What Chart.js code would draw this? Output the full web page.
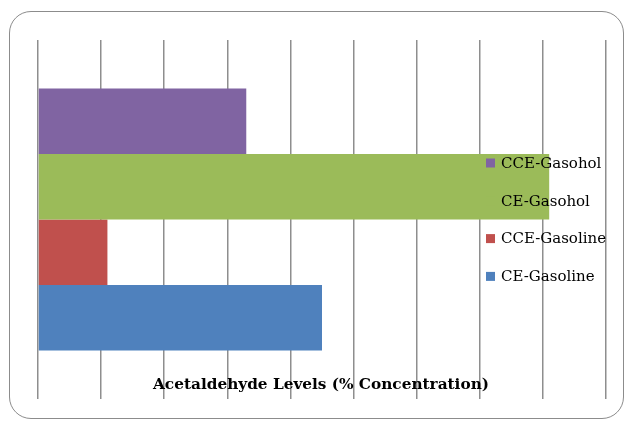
<!DOCTYPE html>
<html lang="en">
<head>
  <meta charset="UTF-8" />
  <title>Acetaldehyde Levels</title>
  <style>
    html, body {
      margin: 0;
      padding: 0;
      background: #fff;
    }

    .wrap {
      position: relative;
      width: 630px;
      height: 423px;
    }

    .frame {
      position: absolute;
      left: 9px;
      top: 11px;
      width: 615px;
      height: 408px;
      border: 1.5px solid #8c8c8c;
      border-radius: 22px;
      box-sizing: border-box;
    }

    canvas {
      position: absolute;
      left: 0;
      top: 0;
    }
  </style>
</head>
<body>
  <div class="wrap">
    <div class="frame"></div>
    <canvas id="myChart" width="630" height="423"></canvas>
  </div>
  <script src="https://cdn.jsdelivr.net/npm/chart.js@4/dist/chart.umd.min.js"></script>
  <script>
    // one category, four series (top to bottom as drawn)
    const categories = ["Acetaldehyde"];
    const seriesNames = ["CCE-Gasohol", "CE-Gasohol", "CCE-Gasoline", "CE-Gasoline"];
    const cceGasohol = [3.3];
    const ceGasohol = [8.1];
    const cceGasoline = [1.1];
    const ceGasoline = [4.5];
    const axisTitle = "Acetaldehyde Levels (% Concentration)";

    const colors = ["#8064A2", "#9BBB59", "#C0504D", "#4F81BD"];
    const values = [cceGasohol, ceGasohol, cceGasoline, ceGasoline];

    const serif = "'DejaVu Serif', 'Liberation Serif', serif";

    // legend + axis title sit inside the plot, Excel style
    const overlay = {
      id: "overlay",
      afterDatasetsDraw(chart) {
        const ctx = chart.ctx;
        ctx.save();
        ctx.textBaseline = "middle";
        ctx.font = "15px " + serif;
        chart.data.datasets.forEach((ds, i) => {
          const y = 163 + i * 37.8;
          ctx.fillStyle = ds.backgroundColor;
          ctx.fillRect(486, y - 4.5, 9, 9);
          ctx.fillStyle = "#000";
          ctx.textAlign = "left";
          ctx.fillText(ds.label, 501, y + 1);
        });
        ctx.font = "bold 15.3px " + serif;
        ctx.textAlign = "center";
        ctx.fillText(axisTitle, 321, 385);
        ctx.restore();
      }
    };

    const ctx = document.getElementById("myChart").getContext("2d");
    const myChart = new Chart(ctx, {
      type: "bar",
      data: {
        labels: categories,
        datasets: seriesNames.map((name, i) => ({
          label: name,
          data: values[i],
          backgroundColor: colors[i],
          borderWidth: 0,
          barPercentage: 1,
          categoryPercentage: 0.73
        }))
      },
      options: {
        indexAxis: "y",
        responsive: false,
        animation: { duration: 0 },
        layout: {
          padding: { left: 38, right: 24, top: 40, bottom: 24 }
        },
        scales: {
          x: {
            min: 0,
            max: 9,
            ticks: { display: false, stepSize: 1 },
            grid: { color: "#8e8e8e", lineWidth: 1.5, drawTicks: false },
            border: { display: false }
          },
          y: {
            display: false
          }
        },
        plugins: {
          legend: { display: false },
          tooltip: { enabled: false }
        }
      },
      plugins: [overlay]
    });
  </script>
</body>
</html>
